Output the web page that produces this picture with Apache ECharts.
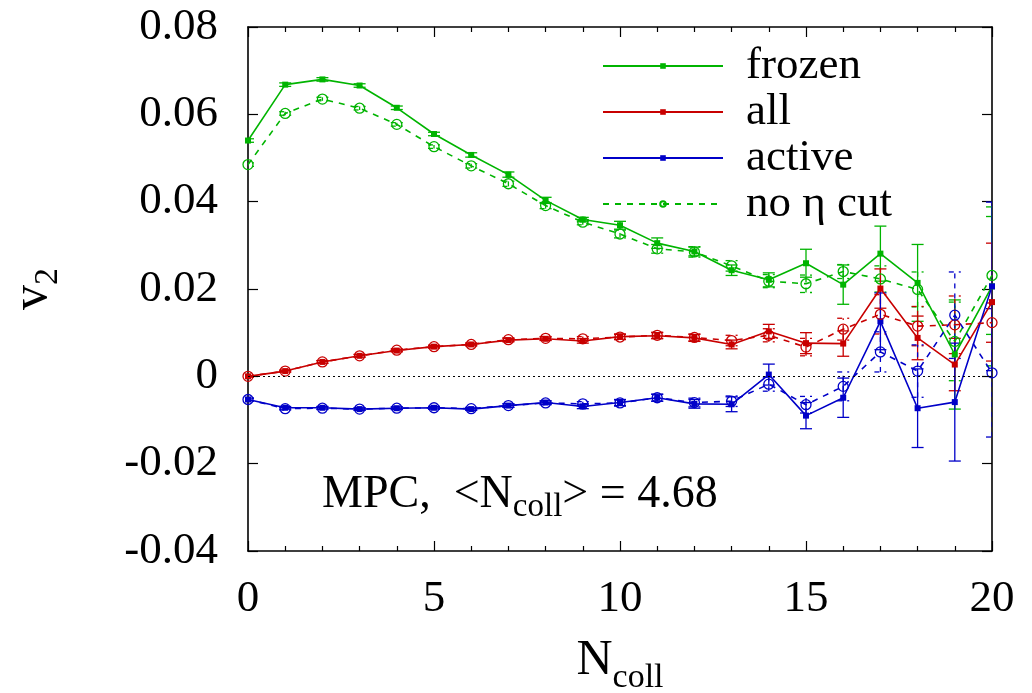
<!DOCTYPE html>
<html>
<head>
<meta charset="utf-8">
<script src="https://cdn.jsdelivr.net/npm/echarts@6/dist/echarts.min.js"></script>
<style>
  html, body { margin: 0; padding: 0; background: #fff; }
  #chart { width: 1032px; height: 693px; }
</style>
</head>
<body>
<div id="chart"></div>
<script>
// N_coll bins
const nColl = [0, 1, 2, 3, 4, 5, 6, 7, 8, 9, 10, 11, 12, 13, 14, 15, 16, 17, 18, 19, 20];

// v2 of frozen particles, with and without the eta cut
const frozen = [0.0540, 0.0668, 0.0680, 0.0666, 0.0615, 0.0555, 0.0507, 0.0462, 0.0403, 0.0359, 0.0346,
                0.0305, 0.0286, 0.0243, 0.0221, 0.0259, 0.0210, 0.0281, 0.0214, 0.0050, 0.0206];
const frozenErr = [0.0004, 0.0004, 0.0004, 0.0004, 0.0004, 0.0004, 0.0005, 0.0006, 0.0007, 0.0005, 0.0009,
                   0.0012, 0.0010, 0.0012, 0.0016, 0.0032, 0.0045, 0.0063, 0.0088, 0.0125, 0.0182];
const frozenNoCut = [0.0485, 0.0602, 0.0635, 0.0614, 0.0577, 0.0526, 0.0482, 0.0441, 0.0391, 0.0353, 0.0326,
                     0.0292, 0.0285, 0.0253, 0.0218, 0.0212, 0.0240, 0.0223, 0.0199, 0.0080, 0.0231];
const frozenNoCutErr = [0.0004, 0.0004, 0.0004, 0.0004, 0.0004, 0.0004, 0.0005, 0.0006, 0.0007, 0.0006, 0.0009,
                        0.0010, 0.0012, 0.0012, 0.0015, 0.0020, 0.0016, 0.0030, 0.0040, 0.0090, 0.0135];

// v2 of all particles
const all = [0.0000, 0.0012, 0.0033, 0.0047, 0.0059, 0.0068, 0.0073, 0.0083, 0.0086, 0.0081, 0.0091,
             0.0093, 0.0088, 0.0073, 0.0103, 0.0076, 0.0075, 0.0201, 0.0088, 0.0027, 0.0170];
const allErr = [0.0002, 0.0002, 0.0003, 0.0003, 0.0003, 0.0003, 0.0003, 0.0004, 0.0004, 0.0005, 0.0006,
                0.0007, 0.0008, 0.0010, 0.0016, 0.0024, 0.0029, 0.0045, 0.0050, 0.0060, 0.0135];
const allNoCut = [0.0000, 0.0012, 0.0033, 0.0047, 0.0060, 0.0068, 0.0073, 0.0084, 0.0087, 0.0086, 0.0090,
                  0.0094, 0.0089, 0.0082, 0.0094, 0.0067, 0.0108, 0.0142, 0.0115, 0.0118, 0.0123];
const allNoCutErr = [0.0002, 0.0002, 0.0003, 0.0003, 0.0003, 0.0003, 0.0003, 0.0004, 0.0004, 0.0005, 0.0006,
                     0.0007, 0.0008, 0.0012, 0.0015, 0.0020, 0.0025, 0.0045, 0.0045, 0.0066, 0.0045];

// v2 of active particles
const active = [-0.0053, -0.0072, -0.0072, -0.0075, -0.0073, -0.0072, -0.0075, -0.0067, -0.0060, -0.0069, -0.0060,
                -0.0049, -0.0063, -0.0064, 0.0004, -0.0090, -0.0049, 0.0126, -0.0073, -0.0059, 0.0206];
const activeErr = [0.0003, 0.0003, 0.0003, 0.0003, 0.0003, 0.0003, 0.0003, 0.0004, 0.0004, 0.0005, 0.0007,
                   0.0008, 0.0010, 0.0017, 0.0024, 0.0030, 0.0045, 0.0065, 0.0090, 0.0135, 0.0193];
const activeNoCut = [-0.0053, -0.0074, -0.0073, -0.0075, -0.0073, -0.0072, -0.0074, -0.0067, -0.0061, -0.0063, -0.0061,
                     -0.0049, -0.0060, -0.0057, -0.0018, -0.0065, -0.0023, 0.0056, 0.0012, 0.0140, 0.0008];
const activeNoCutErr = [0.0003, 0.0003, 0.0003, 0.0003, 0.0003, 0.0003, 0.0003, 0.0004, 0.0004, 0.0005, 0.0007,
                        0.0008, 0.0010, 0.0012, 0.0016, 0.0019, 0.0033, 0.0046, 0.0060, 0.0099, 0.0147];

// y tick labels, from -0.04 to 0.08 in steps of 0.02
const yTickLabels = ['-0.04', '-0.02', '0', '0.02', '0.04', '0.06', '0.08'];
const yMin = -0.04, yMax = 0.08, yStep = 0.02;

const GREEN = '#00b400', RED = '#c80000', BLUE = '#0000c8';
const FONT = '"Liberation Serif", "Times New Roman", serif';

function pairs(ys) { return nColl.map((x, i) => [x, ys[i]]); }

function lineSeries(name, ys, color, dashed) {
  return {
    type: 'line', name: name, data: pairs(ys),
    symbol: dashed ? 'circle' : 'rect',
    symbolSize: dashed ? 10 : 6,
    showAllSymbol: true,
    lineStyle: { color: color, width: 1.6, type: dashed ? [6, 6] : 'solid' },
    itemStyle: dashed
      ? { color: 'rgba(255,255,255,0)', borderColor: color, borderWidth: 1.3 }
      : { color: color, borderColor: color, borderWidth: 0 },
    emphasis: { disabled: true },
    animation: false, z: 3
  };
}

function errorBars(name, ys, errs, color, dashed) {
  return {
    type: 'custom', name: name, silent: true, clip: true, animation: false, z: 2,
    data: nColl.map((x, i) => [x, ys[i], errs[i]]),
    encode: { x: 0, y: 1 },
    renderItem: function (params, api) {
      const x = api.value(0), y = api.value(1), e = api.value(2);
      const lo = api.coord([x, y - e]);
      const hi = api.coord([x, y + e]);
      const hw = 6;
      const style = { stroke: color, lineWidth: 1.3, lineDash: dashed ? [5, 5] : null, fill: null };
      return {
        type: 'group',
        children: [
          { type: 'line', shape: { x1: lo[0], y1: lo[1], x2: hi[0], y2: hi[1] }, style: style },
          { type: 'line', shape: { x1: lo[0] - hw, y1: lo[1], x2: lo[0] + hw, y2: lo[1] }, style: style },
          { type: 'line', shape: { x1: hi[0] - hw, y1: hi[1], x2: hi[0] + hw, y2: hi[1] }, style: style }
        ]
      };
    }
  };
}

const axisLineStyle = { color: '#000', width: 1.6 };
const tickStyle = { color: '#000', width: 1.2 };

const chart = echarts.init(document.getElementById('chart'), null, { renderer: 'canvas' });

const frozenLine = lineSeries('frozen', frozen, GREEN, false);
frozenLine.markLine = {
  silent: true, symbol: 'none', animation: false,
  label: { show: false },
  lineStyle: { color: '#000', type: [2, 3], width: 1 },
  data: [{ yAxis: 0 }]
};

chart.setOption({
  backgroundColor: '#fff',
  animation: false,
  grid: { left: 248, right: 40, top: 27, bottom: 142, containLabel: false, outerBoundsMode: 'none' },
  legend: {
    orient: 'vertical', left: 597, top: 38,
    itemWidth: 120, itemHeight: 7, itemGap: 0,
    selectedMode: false,
    data: ['frozen', 'all', 'active', 'no η cut'],
    textStyle: { fontFamily: FONT, fontSize: 45, color: '#000', lineHeight: 46, padding: [0, 0, 0, 18] }
  },
  xAxis: [
    {
      type: 'value', min: 0, max: 20, interval: 5, position: 'bottom',
      name: '{n|N}{s|coll}', nameLocation: 'middle', nameGap: 72,
      nameTextStyle: {
        fontFamily: FONT, color: '#000',
        rich: {
          n: { fontFamily: FONT, fontSize: 50, color: '#000', lineHeight: 60 },
          s: { fontFamily: FONT, fontSize: 34, color: '#000', lineHeight: 60, padding: [34, 0, 0, 0] }
        }
      },
      axisLine: { show: true, onZero: false, lineStyle: axisLineStyle },
      axisTick: { show: true, inside: true, length: 10, lineStyle: tickStyle },
      minorTick: { show: true, splitNumber: 5, length: 5, lineStyle: tickStyle },
      splitLine: { show: false },
      axisLabel: { fontFamily: FONT, fontSize: 45, color: '#000', margin: 26 }
    },
    {
      type: 'value', min: 0, max: 20, interval: 5, position: 'top',
      axisLine: { show: true, onZero: false, lineStyle: axisLineStyle },
      axisTick: { show: true, inside: true, length: 10, lineStyle: tickStyle },
      minorTick: { show: true, splitNumber: 5, length: 5, lineStyle: tickStyle },
      splitLine: { show: false },
      axisLabel: { show: false }
    }
  ],
  yAxis: [
    {
      type: 'value', min: yMin, max: yMax, interval: yStep, position: 'left',
      name: '{v|v}{s|2}', nameLocation: 'middle', nameGap: 185, nameRotate: 90,
      nameTextStyle: {
        fontFamily: FONT, color: '#000',
        rich: {
          v: { fontFamily: FONT, fontSize: 50, color: '#000', lineHeight: 60 },
          s: { fontFamily: FONT, fontSize: 34, color: '#000', lineHeight: 60, padding: [30, 0, 0, 0] }
        }
      },
      axisLine: { show: true, onZero: false, lineStyle: axisLineStyle },
      axisTick: { show: true, inside: true, length: 10, lineStyle: tickStyle },
      splitLine: { show: false },
      axisLabel: {
        fontFamily: FONT, fontSize: 45, color: '#000', margin: 30,
        formatter: function (v) { return yTickLabels[Math.round((v - yMin) / yStep)]; }
      }
    },
    {
      type: 'value', min: yMin, max: yMax, interval: yStep, position: 'right',
      axisLine: { show: true, onZero: false, lineStyle: axisLineStyle },
      axisTick: { show: true, inside: true, length: 10, lineStyle: tickStyle },
      splitLine: { show: false },
      axisLabel: { show: false }
    }
  ],
  graphic: [
    {
      type: 'text', left: 322, top: 465, silent: true,
      style: {
        text: '{t|MPC,  <N}{s|coll}{t|> = 4.68}',
        rich: {
          t: { fontFamily: FONT, fontSize: 46, fill: '#000', lineHeight: 56 },
          s: { fontFamily: FONT, fontSize: 33, fill: '#000', lineHeight: 56, padding: [26, 0, 0, 0] }
        }
      }
    }
  ],
  series: [
    errorBars('frozen-err', frozen, frozenErr, GREEN, false),
    errorBars('frozen-nocut-err', frozenNoCut, frozenNoCutErr, GREEN, true),
    errorBars('all-err', all, allErr, RED, false),
    errorBars('all-nocut-err', allNoCut, allNoCutErr, RED, true),
    errorBars('active-err', active, activeErr, BLUE, false),
    errorBars('active-nocut-err', activeNoCut, activeNoCutErr, BLUE, true),
    frozenLine,
    lineSeries('all', all, RED, false),
    lineSeries('active', active, BLUE, false),
    lineSeries('no η cut', frozenNoCut, GREEN, true),
    lineSeries('all, no η cut', allNoCut, RED, true),
    lineSeries('active, no η cut', activeNoCut, BLUE, true)
  ]
});
</script>
</body>
</html>
